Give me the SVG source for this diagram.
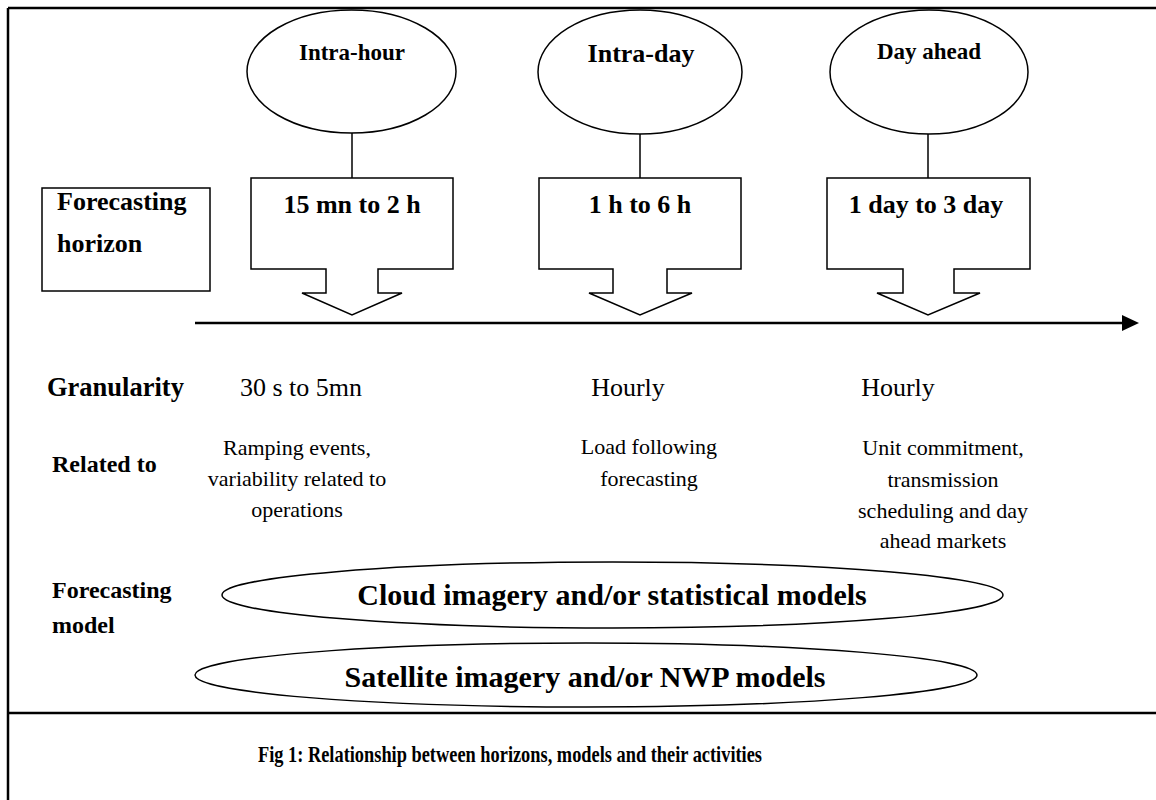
<svg xmlns="http://www.w3.org/2000/svg" width="1156" height="800" viewBox="0 0 1156 800">
<style>
.b{font-family:"Liberation Serif","Times New Roman",serif;font-weight:bold;fill:#000}
.r{font-family:"Liberation Serif","Times New Roman",serif;fill:#000}
.sh{fill:#fff;stroke:#000;stroke-width:1.5}
.ln{stroke:#000;stroke-width:1.5;fill:none}
.m{text-anchor:middle}
</style>
<rect width="1156" height="800" fill="#fff"/>
<g id="frame">
<line x1="8" y1="8" x2="1156" y2="8" stroke="#000" stroke-width="2.5"/>
<line x1="8" y1="8" x2="8" y2="800" stroke="#000" stroke-width="2.5"/>
<line x1="8" y1="713" x2="1156" y2="713" stroke="#000" stroke-width="2.5"/>
</g>
<g id="connectors">
<line class="ln" x1="352" y1="133" x2="352" y2="178"/>
<line class="ln" x1="640" y1="134" x2="640" y2="178"/>
<line class="ln" x1="928" y1="134" x2="928" y2="178"/>
<line x1="195" y1="323" x2="1124" y2="323" stroke="#000" stroke-width="2.5"/>
<polygon points="1122,315 1139,323 1122,331" fill="#000"/>
</g>
<g id="intra-hour">
<ellipse class="sh" cx="351.5" cy="71.5" rx="104.5" ry="61.5"/>
<text class="b m" x="352" y="60" font-size="23">Intra-hour</text>
</g>
<g id="intra-day">
<ellipse class="sh" cx="640" cy="72" rx="102" ry="62"/>
<text class="b m" x="641" y="62" font-size="26">Intra-day</text>
</g>
<g id="day-ahead">
<ellipse class="sh" cx="929" cy="72" rx="99" ry="62"/>
<text class="b m" x="929" y="59" font-size="23">Day ahead</text>
</g>
<g id="horizon-label">
<rect class="sh" x="42" y="188" width="168" height="103"/>
<text class="b" x="57" y="210" font-size="26">Forecasting</text>
<text class="b" x="57" y="252" font-size="26">horizon</text>
</g>
<g id="h1">
<path class="sh" d="M251,178 H453 V269 H378 V293 H402 L352,315 L302,293 H326 V269 H251 Z"/>
<text class="b m" x="352" y="213" font-size="26">15 mn to 2 h</text>
</g>
<g id="h2">
<path class="sh" d="M539,178 H741 V269 H667 V293 H692 L640,315 L589,293 H613 V269 H539 Z"/>
<text class="b m" x="640" y="213" font-size="26">1 h to 6 h</text>
</g>
<g id="h3">
<path class="sh" d="M827,178 H1030 V269 H954 V293 H980 L928,315 L877,293 H903 V269 H827 Z"/>
<text class="b m" x="926" y="213" font-size="26">1 day to 3 day</text>
</g>
<g id="granularity">
<text class="b" x="47" y="396" font-size="26.5">Granularity</text>
<text class="r m" x="301" y="396" font-size="26">30 s to 5mn</text>
<text class="r m" x="628" y="396" font-size="26">Hourly</text>
<text class="r m" x="898" y="396" font-size="26">Hourly</text>
</g>
<g id="related">
<text class="b" x="52" y="472" font-size="24">Related to</text>
<text class="r m" x="297" y="455" font-size="22">Ramping events,</text>
<text class="r m" x="297" y="486" font-size="22">variability related to</text>
<text class="r m" x="297" y="517" font-size="22">operations</text>
<text class="r m" x="649" y="454" font-size="22">Load following</text>
<text class="r m" x="649" y="486" font-size="22">forecasting</text>
<text class="r m" x="943" y="455" font-size="22">Unit commitment,</text>
<text class="r m" x="943" y="487" font-size="22">transmission</text>
<text class="r m" x="943" y="518" font-size="22">scheduling and day</text>
<text class="r m" x="943" y="548" font-size="22">ahead markets</text>
</g>
<g id="model-label">
<text class="b" x="52" y="598" font-size="24">Forecasting</text>
<text class="b" x="52" y="633" font-size="24">model</text>
</g>
<g id="cloud-model">
<ellipse class="sh" cx="612.5" cy="595" rx="390.5" ry="33"/>
<text class="b m" x="612" y="605" font-size="30">Cloud imagery and/or statistical models</text>
</g>
<g id="satellite-model">
<ellipse class="sh" cx="586" cy="675" rx="391" ry="32"/>
<text class="b m" x="585" y="687" font-size="30">Satellite imagery and/or NWP models</text>
</g>
<g id="caption">
<text class="b m" x="510" y="762" font-size="23" textLength="504" lengthAdjust="spacingAndGlyphs">Fig 1: Relationship between horizons, models and their activities</text>
</g>
</svg>
